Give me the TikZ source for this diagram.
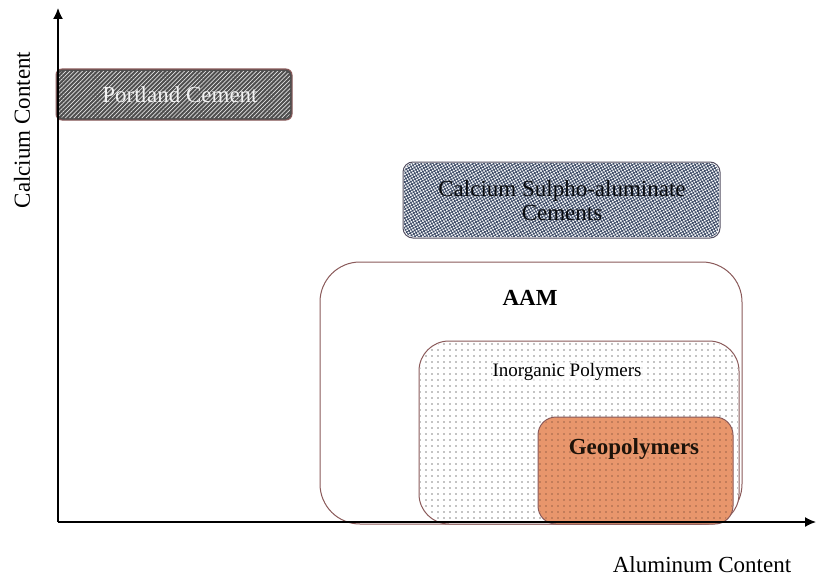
\documentclass[tikz,border=0pt]{standalone}
\usepackage{fontspec}
\setmainfont{Liberation Serif}
\usetikzlibrary{patterns.meta,arrows.meta}
\definecolor{edgebrown}{HTML}{8A5A5A}
\definecolor{pcgray}{HTML}{4E4E4E}
\definecolor{csablue}{HTML}{3C4A66}
\definecolor{geoorange}{HTML}{E8966C}
\tikzset{
  region/.style={draw=edgebrown, line width=1pt},
  lbl/.style={font=\fontsize{23}{25}\selectfont, align=center},
  axis/.style={line width=1.4pt, -{Latex[length=11pt,width=10pt]}}
}
\begin{document}
\begin{tikzpicture}[x=1pt,y=-1pt]
\useasboundingbox (0,0) rectangle (816,578);
% Portland Cement
\filldraw[region, fill=pcgray, rounded corners=6pt] (56,69) rectangle (292,120);
\fill[pattern={Lines[angle=45,distance=3pt,line width=0.7pt]}, pattern color=white!80!gray, rounded corners=6pt] (58,71) rectangle (290,118);
\node[lbl, text=white!90!gray] (pc) at (180,95) {Portland Cement};
% CSA
\filldraw[region, draw=csablue!70!edgebrown, fill=white, rounded corners=10pt] (403,162) rectangle (720,238);
\fill[pattern={Hatch[angle=30,distance=2.6pt,line width=0.8pt]}, pattern color=csablue, rounded corners=10pt] (404,163) rectangle (719,237);
\node[lbl, text=black!85!csablue, font=\fontsize{23}{24}\selectfont] (csa) at (562,201) {Calcium Sulpho-aluminate\\Cements};
% AAM
\draw[region, fill=white, rounded corners=40pt] (320,262) rectangle (742,524);
\node[lbl, font=\fontsize{23}{25}\selectfont\bfseries] (aam) at (530,298) {AAM};
% Inorganic polymers
\filldraw[region, fill=white, rounded corners=30pt] (419,341) rectangle (739,524);
\fill[pattern={Dots[distance=6pt,radius=0.7pt]}, pattern color=black, rounded corners=30pt] (420,342) rectangle (738,523);
\node[lbl, font=\fontsize{19}{22}\selectfont, fill=white, fill opacity=0.6, text opacity=1, inner sep=1pt] (ip) at (567,372) {Inorganic Polymers};
% Geopolymers
\filldraw[region, fill=geoorange, rounded corners=18pt] (538,417) rectangle (733,524);
\fill[pattern={Dots[distance=6pt,radius=0.6pt]}, pattern color=black!70!geoorange, rounded corners=18pt] (539,418) rectangle (732,523);
\node[lbl, font=\fontsize{23}{25}\selectfont\bfseries, text=black!85!brown] (geo) at (634,449) {Geopolymers};
% Axes
\coordinate (o) at (58,522);
\coordinate (ytop) at (58,8);
\coordinate (xend) at (816,522);
\draw[axis] (o) -- (ytop);
\draw[axis] (o) -- (xend);
\node[lbl, rotate=90] (ylab) at (22,130) {Calcium Content};
\node[lbl] (xlab) at (702,565) {Aluminum Content};
\end{tikzpicture}
\end{document}
